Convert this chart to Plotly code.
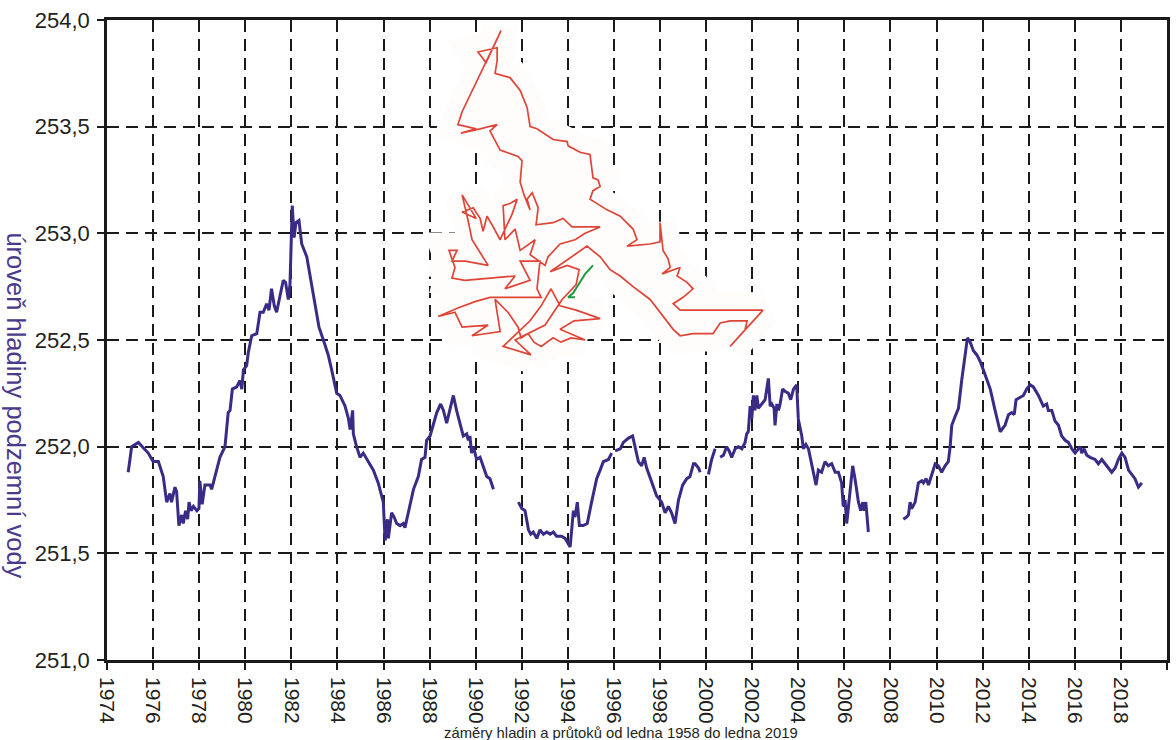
import plotly.graph_objects as go

# Groundwater level record (years, metres a.s.l.); None marks gaps in the record
years = [
    1974.92, 1975.07, 1975.36, 1975.79, 1976.00, 1976.23, 1976.44, 1976.59, 1976.73, 1976.80,
    1976.95, 1977.02, 1977.12, 1977.24, 1977.31, 1977.41, 1977.50, 1977.56, 1977.65, 1977.75,
    1977.90, 1977.99, 1978.03, 1978.13, 1978.25, 1978.47, 1978.54, 1978.69, 1978.90, 1979.12,
    1979.26, 1979.34, 1979.44, 1979.63, 1979.77, 1979.85, 1979.92, 1980.06, 1980.13, 1980.28,
    1980.50, 1980.64, 1980.78, 1980.93, 1981.03, 1981.14, 1981.26, 1981.36, 1981.50, 1981.65,
    1981.75, 1981.87, 1981.94, 1981.99, 1982.04, 1982.12, 1982.20, 1982.33, 1982.45, 1982.67,
    1983.03, 1983.20, 1983.45, 1983.60, 1983.75, 1983.97, 1984.11, 1984.33, 1984.48, 1984.55,
    1984.66, 1984.69, 1984.83, 1984.98, 1985.12, 1985.34, 1985.56, 1985.77, 1985.92, 1985.99,
    1986.07, 1986.17, 1986.21, 1986.35, 1986.46, 1986.57, 1986.72, 1986.86, 1986.93, 1987.08,
    1987.30, 1987.51, 1987.65, 1987.80, 1987.87, 1988.02, 1988.16, 1988.31, 1988.48, 1988.60,
    1988.74, 1988.85, 1989.03, 1989.17, 1989.32, 1989.46, 1989.61, 1989.68, 1989.75, 1989.82,
    1989.90, 1990.04, 1990.19, 1990.33, 1990.48, 1990.62, 1990.77, None,
    1991.85, 1992.00, 1992.14, 1992.29, 1992.39, 1992.50, 1992.65, 1992.79, 1992.94, 1993.08,
    1993.23, 1993.37, 1993.51, 1993.73, 1993.88, 1994.02, 1994.10, 1994.24, 1994.31, 1994.41,
    1994.50, 1994.67, 1994.84, 1995.03, 1995.25, 1995.40, 1995.54, 1995.76, 1995.90, None,
    1996.05, 1996.27, 1996.41, 1996.63, 1996.81, 1996.92, 1997.06, 1997.20, 1997.31, 1997.42,
    1997.64, 1997.85, 1998.07, 1998.22, 1998.36, 1998.50, 1998.65, 1998.80, 1998.98, 1999.16,
    1999.30, 1999.45, 1999.52, 1999.67, 1999.74, None,
    2000.10, 2000.24, 2000.39, None,
    2000.61, 2000.75, 2000.89, 2001.00, 2001.11, 2001.26, 2001.40, 2001.55, 2001.69, 2001.76,
    2001.83, 2001.91, 2001.98, 2002.05, 2002.12, 2002.20, 2002.27, 2002.41, 2002.56, 2002.70,
    2002.78, 2002.85, 2002.95, 2002.99, 2003.07, 2003.14, 2003.21, 2003.32, 2003.42, 2003.57,
    2003.67, 2003.79, 2003.86, 2003.93, 2004.00, 2004.15, 2004.22, 2004.33, 2004.44, 2004.58,
    2004.77, 2004.87, 2005.01, 2005.16, 2005.30, 2005.45, 2005.60, 2005.74, 2005.88, 2005.95,
    2006.03, 2006.10, 2006.21, 2006.36, 2006.46, 2006.61, 2006.71, 2006.80, 2006.86, 2006.93,
    2007.04, None,
    2008.56, 2008.70, 2008.78, 2008.85, 2008.92, 2009.07, 2009.21, 2009.36, 2009.43, 2009.55,
    2009.65, 2009.79, 2009.94, 2010.08, 2010.22, 2010.37, 2010.51, 2010.59, 2010.66, 2010.80,
    2010.95, 2011.09, 2011.24, 2011.34, 2011.46, 2011.60, 2011.75, 2011.89, 2012.03, 2012.33,
    2012.54, 2012.76, 2012.97, 2013.12, 2013.26, 2013.37, 2013.45, 2013.60, 2013.77, 2013.91,
    2014.06, 2014.20, 2014.42, 2014.63, 2014.78, 2014.85, 2015.00, 2015.14, 2015.29, 2015.43,
    2015.58, 2015.72, 2015.87, 2016.01, 2016.16, 2016.23, 2016.30, 2016.40, 2016.52, 2016.66,
    2016.88, 2017.02, 2017.17, 2017.31, 2017.46, 2017.60, 2017.75, 2017.89, 2018.04, 2018.18,
    2018.33, 2018.47, 2018.61, 2018.76, 2018.91,
]

levels = [
    251.88, 252.00, 252.02, 251.97, 251.93, 251.93, 251.86, 251.74, 251.78, 251.74,
    251.81, 251.79, 251.63, 251.68, 251.64, 251.70, 251.66, 251.74, 251.70, 251.72,
    251.70, 251.71, 251.84, 251.73, 251.82, 251.82, 251.80, 251.86, 251.95, 252.00,
    252.16, 252.17, 252.27, 252.28, 252.31, 252.27, 252.36, 252.38, 252.44, 252.52,
    252.53, 252.63, 252.63, 252.67, 252.64, 252.74, 252.66, 252.63, 252.70, 252.78,
    252.77, 252.69, 252.76, 252.95, 253.13, 252.98, 253.05, 253.06, 252.95, 252.89,
    252.67, 252.56, 252.48, 252.43, 252.36, 252.25, 252.24, 252.19, 252.13, 252.08,
    252.17, 252.06, 252.00, 251.95, 251.97, 251.93, 251.89, 251.83, 251.77, 251.74,
    251.56, 251.66, 251.57, 251.69, 251.67, 251.64, 251.63, 251.64, 251.62, 251.70,
    251.80, 251.86, 251.94, 251.95, 252.03, 252.05, 252.10, 252.16, 252.20, 252.17,
    252.11, 252.16, 252.24, 252.17, 252.10, 252.05, 252.06, 252.03, 252.05, 251.97,
    252.00, 251.94, 251.95, 251.91, 251.86, 251.85, 251.80, None,
    251.74, 251.71, 251.70, 251.61, 251.59, 251.60, 251.57, 251.61, 251.59, 251.60,
    251.59, 251.60, 251.58, 251.58, 251.57, 251.54, 251.53, 251.70, 251.67, 251.74,
    251.63, 251.63, 251.64, 251.74, 251.85, 251.89, 251.93, 251.94, 251.97, None,
    251.98, 251.99, 252.02, 252.04, 252.05, 252.00, 251.93, 251.91, 251.95, 251.90,
    251.83, 251.77, 251.74, 251.69, 251.72, 251.69, 251.64, 251.75, 251.82, 251.85,
    251.86, 251.92, 251.92, 251.90, 251.88, None,
    251.87, 251.94, 251.99, None,
    251.95, 251.96, 252.00, 251.98, 251.95, 251.99, 252.00, 251.99, 252.02, 252.06,
    252.07, 252.19, 252.13, 252.24, 252.17, 252.24, 252.18, 252.20, 252.22, 252.32,
    252.19, 252.20, 252.18, 252.10, 252.20, 252.17, 252.20, 252.27, 252.26, 252.25,
    252.22, 252.27, 252.28, 252.29, 252.13, 252.05, 251.99, 252.01, 251.99, 251.91,
    251.82, 251.89, 251.88, 251.93, 251.91, 251.92, 251.88, 251.88, 251.83, 251.72,
    251.75, 251.64, 251.77, 251.91, 251.85, 251.74, 251.70, 251.74, 251.70, 251.74,
    251.60, None,
    251.66, 251.67, 251.68, 251.74, 251.71, 251.74, 251.83, 251.84, 251.83, 251.85,
    251.82, 251.87, 251.92, 251.91, 251.88, 251.91, 251.93, 252.00, 252.10, 252.14,
    252.18, 252.31, 252.44, 252.51, 252.49, 252.45, 252.43, 252.40, 252.36, 252.27,
    252.17, 252.07, 252.10, 252.15, 252.16, 252.15, 252.22, 252.23, 252.24, 252.27,
    252.29, 252.28, 252.24, 252.19, 252.20, 252.17, 252.17, 252.12, 252.10, 252.05,
    252.03, 252.02, 251.99, 251.97, 251.99, 252.00, 251.97, 251.99, 251.96, 251.95,
    251.94, 251.92, 251.94, 251.92, 251.90, 251.88, 251.90, 251.94, 251.97, 251.95,
    251.89, 251.87, 251.85, 251.81, 251.83,
]

# Red scribble overlay (x in years, y in metres)
red_x = [
    # eastern loop and upper branch
    2001.04, 2002.47, 1998.87, 1998.57, 1999.00, 1999.43, 1999.17, 1998.74, 1998.87, 1998.09,
    1998.44, 1998.35, 1998.13, 1998.00, 1998.00, 1997.57, 1996.57, 1997.00, 1996.83, 1996.27,
    1995.70, 1994.96, 1995.09, 1995.40, 1995.31, 1995.09, 1994.96, 1994.53, 1994.01, 1993.97,
    1993.36, 1992.66, 1992.36, 1992.23, 1991.93, 1991.49, 1990.84, 1990.93, 1990.93, 1990.10,
    1990.45, 1991.10, 1989.41, 1989.23, 1990.02, 1989.36, 1990.19, 1990.93, 1990.62, 1991.06,
    1991.84, 1992.01, 1991.93,
    # tangled western part
    1992.10, 1992.36, 1992.23, 1992.45, 1992.71, 1992.62, 1993.36, 1993.79, 1994.18, 1995.40,
    1994.75, 1994.31, 1993.66, 1993.14, 1993.01, 1992.36, 1992.58, 1991.93, 1991.71, 1991.27,
    1991.19, 1991.49, 1991.80, 1991.58, 1991.06, 1990.71, 1990.49, 1990.32, 1990.19, 1989.89,
    1989.41, 1990.02, 1989.41, 1989.67, 1989.84, 1990.19, 1990.54, 1989.54, 1988.97, 1989.19,
    1988.84, 1989.10, 1988.97, 1989.54, 1991.71, 1991.27, 1992.36, 1991.93, 1992.79, 1992.66,
    1992.84, 1990.62, 1989.97, 1989.23, 1988.37, 1989.10, 1989.41, 1990.54, 1989.84, 1991.06,
    1990.84, 1991.40, 1991.84, 1991.97, 1992.27, 1992.53, 1992.84, 1993.36, 1993.70, 1994.14,
    1994.75, 1993.66, 1994.27, 1995.40, 1994.36, 1993.66, 1993.27, 1992.84, 1992.36, 1991.19,
    1992.40, 1991.71, 1993.01, 1993.75, 1994.36, 1994.49, 1993.97, 1993.23, 1993.92, 1994.83,
    # lower branch back to the east
    1995.40, 1995.83, 1996.27, 1996.83, 1997.57, 1998.00, 1998.57, 1998.87, 1999.43, 2000.30,
    2000.61, 2001.04, 2001.78, 2001.69,
]
red_y = [
    252.47, 252.64, 252.64, 252.67, 252.70, 252.74, 252.77, 252.80, 252.84, 252.81,
    252.84, 252.88, 252.92, 253.05, 252.96, 252.95, 252.94, 252.97, 253.02, 253.08,
    253.11, 253.16, 253.20, 253.22, 253.25, 253.26, 253.37, 253.38, 253.41, 253.43,
    253.44, 253.49, 253.50, 253.59, 253.67, 253.73, 253.75, 253.81, 253.87, 253.85,
    253.80, 253.95, 253.57, 253.51, 253.49, 253.47, 253.49, 253.51, 253.48, 253.39,
    253.36, 253.34, 253.24,
    253.18, 253.11, 253.16, 253.19, 253.12, 253.04, 253.05, 253.07, 253.03, 253.03,
    253.00, 252.97, 252.95, 252.89, 252.85, 252.90, 252.97, 252.92, 253.02, 252.97,
    253.13, 253.14, 253.16, 253.09, 252.97, 253.04, 253.08, 253.01, 253.07, 253.12,
    253.10, 253.07, 253.18, 253.06, 252.97, 252.91, 252.85, 252.87, 252.87, 252.92,
    252.92, 252.84, 252.79, 252.78, 252.80, 252.74, 252.78, 252.87, 252.87, 252.74,
    252.70, 252.70, 252.68, 252.65, 252.61, 252.63, 252.56, 252.57, 252.52, 252.54,
    252.69, 252.63, 252.56, 252.51, 252.53, 252.49, 252.47, 252.51, 252.49, 252.51,
    252.50, 252.55, 252.59, 252.60, 252.64, 252.66, 252.74, 252.66, 252.59, 252.47,
    252.43, 252.50, 252.57, 252.69, 252.76, 252.83, 252.85, 252.82, 252.87, 252.94,
    252.89, 252.83, 252.80, 252.75, 252.69, 252.63, 252.55, 252.52, 252.53, 252.53,
    252.58, 252.59, 252.59, 252.55,
]

# Short green stroke inside the scribble
green_x = [1995.09, 1994.75, 1994.40, 1994.23, 1994.01, 1994.31]
green_y = [252.85, 252.81, 252.75, 252.72, 252.70, 252.70]

year_ticks = list(range(1974, 2021, 2))
level_ticks = [251.0, 251.5, 252.0, 252.5, 253.0, 253.5, 254.0]

FONT_FAMILY = "Liberation Sans, Arial, sans-serif"
BACKING = "#fefdfc"

fig = go.Figure()

# pale backing patch behind the scribble (hides the grid underneath it)
fig.add_trace(go.Scatter(
    x=red_x, y=red_y, mode="lines", fill="toself", fillcolor=BACKING,
    line=dict(color=BACKING, width=36),
    hoverinfo="skip", showlegend=False,
))
fig.add_trace(go.Scatter(
    x=red_x, y=red_y, mode="lines",
    line=dict(color="#e04437", width=1.7),
    showlegend=False,
))
fig.add_trace(go.Scatter(
    x=green_x, y=green_y, mode="lines",
    line=dict(color="#1e9a3c", width=2),
    showlegend=False,
))
fig.add_trace(go.Scatter(
    x=years, y=levels, mode="lines",
    line=dict(color="#3a2b86", width=3),
    connectgaps=False, showlegend=False,
))

axis_common = dict(
    showline=True, linecolor="#1a1a1a", linewidth=2.5, mirror=True,
    ticks="outside", ticklen=7, tickwidth=2, tickcolor="#1a1a1a",
    showgrid=True, gridcolor="#1a1a1a", gridwidth=2, griddash="12px,7px",
    zeroline=False, automargin=False,
)

fig.update_xaxes(
    range=[1974, 2020], tickvals=year_ticks, ticktext=[str(y) for y in year_ticks],
    tickangle=90, ticklabelstandoff=3,
    tickfont=dict(family=FONT_FAMILY, size=21, color="#231f20"),
    **axis_common,
)
fig.update_yaxes(
    range=[251.0, 254.0], tickvals=level_ticks, tickformat=".1f",
    ticklabelstandoff=3,
    tickfont=dict(family=FONT_FAMILY, size=22, color="#231f20"),
    **axis_common,
)

fig.add_annotation(
    text="úroveň hladiny podzemní vody", textangle=90,
    xref="paper", yref="paper", x=-0.086, y=0.398, xanchor="center", yanchor="middle",
    showarrow=False,
    font=dict(family=FONT_FAMILY, size=25.5, color="#4a3a8c"),
)
fig.add_annotation(
    text="záměry hladin a průtoků od ledna 1958 do ledna 2019",
    xref="paper", yref="paper", x=0.485, y=-0.114, xanchor="center", yanchor="middle",
    showarrow=False,
    font=dict(family=FONT_FAMILY, size=14.8, color="#231f20"),
)

fig.update_layout(
    width=1176, height=740,
    margin=dict(l=107, r=9, t=20, b=80),
    paper_bgcolor="white", plot_bgcolor="white",
    separators=", ",
)

fig.write_html("out.html")
